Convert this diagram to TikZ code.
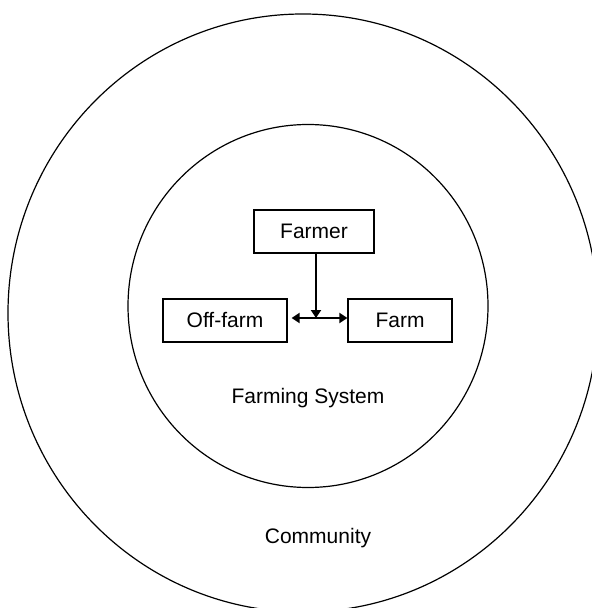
\documentclass[tikz,border=0pt]{standalone}
\usepackage{fontspec}
\setmainfont{Liberation Sans}
\usetikzlibrary{arrows.meta}

\tikzset{
    unit/.style={draw, line width=0.65pt, inner sep=0pt, minimum height=21.5pt, font=\fontsize{10.5}{12}\selectfont},
    ringtext/.style={inner sep=0pt, anchor=base, font=\fontsize{10.5}{12}\selectfont},
    ring/.style={line width=0.6pt},
    link/.style={line width=1pt, -{Triangle[length=4pt,width=5pt]}},
    twoway/.style={line width=1pt, {Triangle[length=4pt,width=5pt]}-{Triangle[length=4pt,width=5pt]}}
}

\begin{document}
\begin{tikzpicture}[x=0.5pt, y=-0.5pt]
    \useasboundingbox (0,0) rectangle (592,608);
    \clip (0,0) rectangle (592,608);
    % the two rings
    \draw[ring] (303,313) ellipse [x radius=147.5pt, y radius=149.5pt];
    \draw[ring] (308,306) ellipse [x radius=90pt, y radius=90.75pt];
    % boxes
    \node[unit, minimum width=60pt] (farmer) at (314,231.5) {Farmer};
    \node[unit, minimum width=62pt] (offfarm) at (225,320.5) {Off-farm};
    \node[unit, minimum width=52pt] (farm) at (400,320.5) {Farm};
    \coordinate (hub) at (316,318);
    \draw[link] (farmer.south -| hub) -- (hub);
    \draw[twoway] ([xshift=2pt]offfarm.east |- hub) -- (farm.west |- hub);
    % ring names
    \node[ringtext] (system) at (308,403) {Farming System};
    \node[ringtext] (community) at (318,543) {Community};
\end{tikzpicture}
\end{document}
